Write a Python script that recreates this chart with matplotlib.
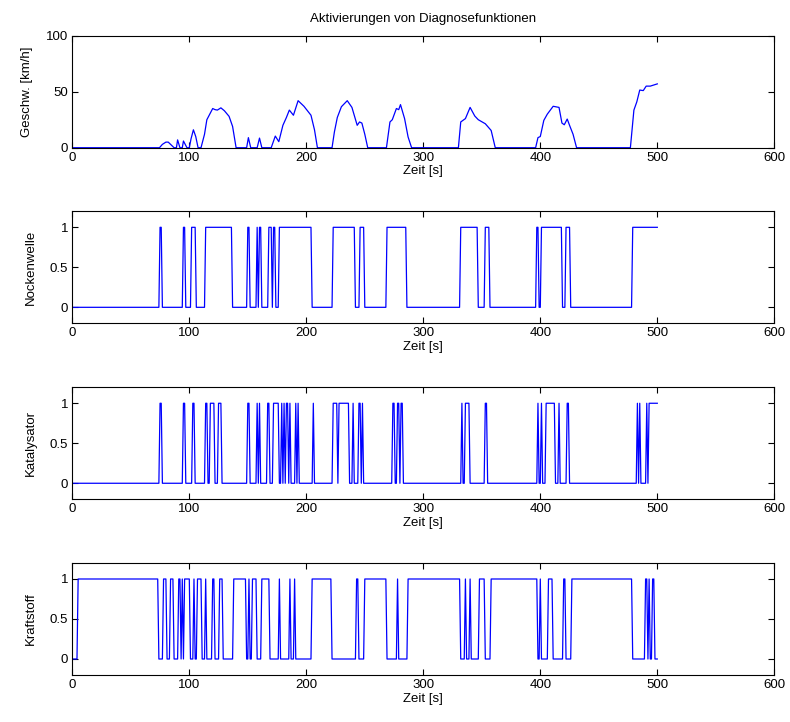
import numpy as np
import matplotlib
matplotlib.use("Agg")
import matplotlib.pyplot as plt

plt.rcParams['font.family'] = ['Liberation Sans', 'DejaVu Sans']
plt.rcParams['font.size'] = 9.5

# Fahrgeschwindigkeit (Stuetzstellen) [s], [km/h]
speed_t = [0, 74.5, 77, 80, 82, 84, 87, 89, 90, 92, 94, 95, 98, 100, 101.5, 103.5, 105.5, 107.5,
           110, 113, 115, 118, 120, 122, 124, 127, 130, 134, 137, 140, 149, 150.5, 152.5, 158, 160,
           162, 170, 173.5, 176.5, 180, 183, 185.5, 189, 193, 198, 204, 207, 209.5, 222, 224,
           226.5, 230, 235, 239, 243.5, 245.5, 247.5, 250, 252.5, 268.5, 271.5, 273.5, 277, 279,
           280.5, 284, 287, 290, 330, 332, 336, 340, 344, 347, 353, 358, 361.5, 396, 398, 400,
           403, 406, 411, 416, 418.5, 420.5, 423, 425, 428, 431, 477, 480, 482.5, 485, 488,
           490.5, 494, 497, 500]
speed_v = [0, 0, 3, 5, 5, 3, 0, 0, 7, 0, 0, 6, 0, 0, 8, 16, 10, 0,
           0, 12, 25, 31, 35, 34, 33.6, 35.6, 33, 28, 19, 0, 0, 9, 0, 0, 8.6,
           0, 0, 10.4, 5.4, 20, 27, 33.6, 29, 42, 37, 29, 16, 0, 0, 14,
           27, 36.6, 42, 36, 20, 23, 22, 12, 0, 0, 23, 25, 35, 34,
           38.5, 26, 9.6, 0, 0, 23, 26, 36, 28.3, 25, 21.4, 15.4, 0, 0, 9, 10,
           24.4, 30, 37, 36, 22, 20.5, 25.6, 20, 12, 0, 0, 33.6, 41, 51.5, 51,
           55, 55, 56, 57]

# Aktive Zeitintervalle der Diagnosen [s] (Start, Ende)
nocken_on = [(75, 76), (95, 96), (102, 105), (114, 136), (150, 151), (158, 158), (160, 161),
             (168, 170), (172, 173), (177, 204), (223, 241), (246, 249), (269, 285),
             (332, 346), (353, 356), (397, 398), (401, 418), (422, 425), (479, 500)]
kat_on = [(75, 76), (95, 96), (103, 104), (114, 115), (118, 121), (125, 127), (150, 151),
          (158, 158), (160, 160), (167, 168), (172, 176), (179, 179), (181, 181), (183, 184),
          (186, 186), (191, 191), (193, 193), (206, 206), (223, 226), (228, 236), (240, 240),
          (245, 246), (248, 248), (274, 275), (278, 279), (281, 282), (333, 333), (336, 339),
          (353, 354), (398, 398), (401, 401), (405, 412), (416, 416), (423, 424), (483, 483),
          (485, 485), (491, 491), (493, 500)]
kraft_on = [(5, 73), (78, 80), (84, 86), (91, 92), (94, 94), (96, 100), (104, 104), (107, 110),
            (114, 114), (120, 121), (126, 128), (138, 148), (151, 151), (154, 157), (162, 168),
            (177, 177), (186, 186), (190, 190), (205, 221), (243, 244), (250, 268), (278, 278),
            (287, 331), (336, 336), (340, 340), (348, 352), (358, 397), (400, 400), (407, 410),
            (420, 421), (427, 478), (490, 491), (493, 493), (496, 497)]

t = np.arange(0, 501)


def flag(intervals):
    y = np.zeros(len(t))
    for a, b in intervals:
        y[(t >= a) & (t <= b)] = 1
    return y


fig = plt.figure(figsize=(7.9, 7.22), dpi=100)
W = 702 / 790
H = 112 / 722
L = 72.3 / 790
bottoms = [0.7954, 0.5522, 0.3085, 0.0651]

panels = [
    ("Geschw. [km/h]", speed_t, speed_v, (0, 100), [0, 50, 100]),
    ("Nockenwelle", t, flag(nocken_on), (-0.2, 1.2), [0, 0.5, 1]),
    ("Katalysator", t, flag(kat_on), (-0.2, 1.2), [0, 0.5, 1]),
    ("Kraftstoff", t, flag(kraft_on), (-0.2, 1.2), [0, 0.5, 1]),
]

for i, (label, x, y, ylim, yt) in enumerate(panels):
    ax = fig.add_axes([L, bottoms[i], W, H])
    ax.plot(x, y, color=(0, 0, 1), lw=0.9)
    ax.set_xlim(0, 600)
    ax.set_ylim(*ylim)
    ax.set_xticks(range(0, 601, 100))
    ax.set_yticks(yt)
    ax.set_yticklabels([("%g" % v) for v in yt])
    ax.tick_params(direction='in', top=True, right=True, length=4, width=0.8,
                   labelsize=9.5, pad=3)
    for s in ax.spines.values():
        s.set_linewidth(0.8)
    ax.set_xlabel("Zeit [s]", fontsize=9.5, labelpad=1)
    ax.set_ylabel(label, fontsize=9.5, labelpad=9)
    if i == 0:
        ax.set_title("Aktivierungen von Diagnosefunktionen", fontsize=9.5, pad=10)

fig.savefig("out.png", dpi=100)
